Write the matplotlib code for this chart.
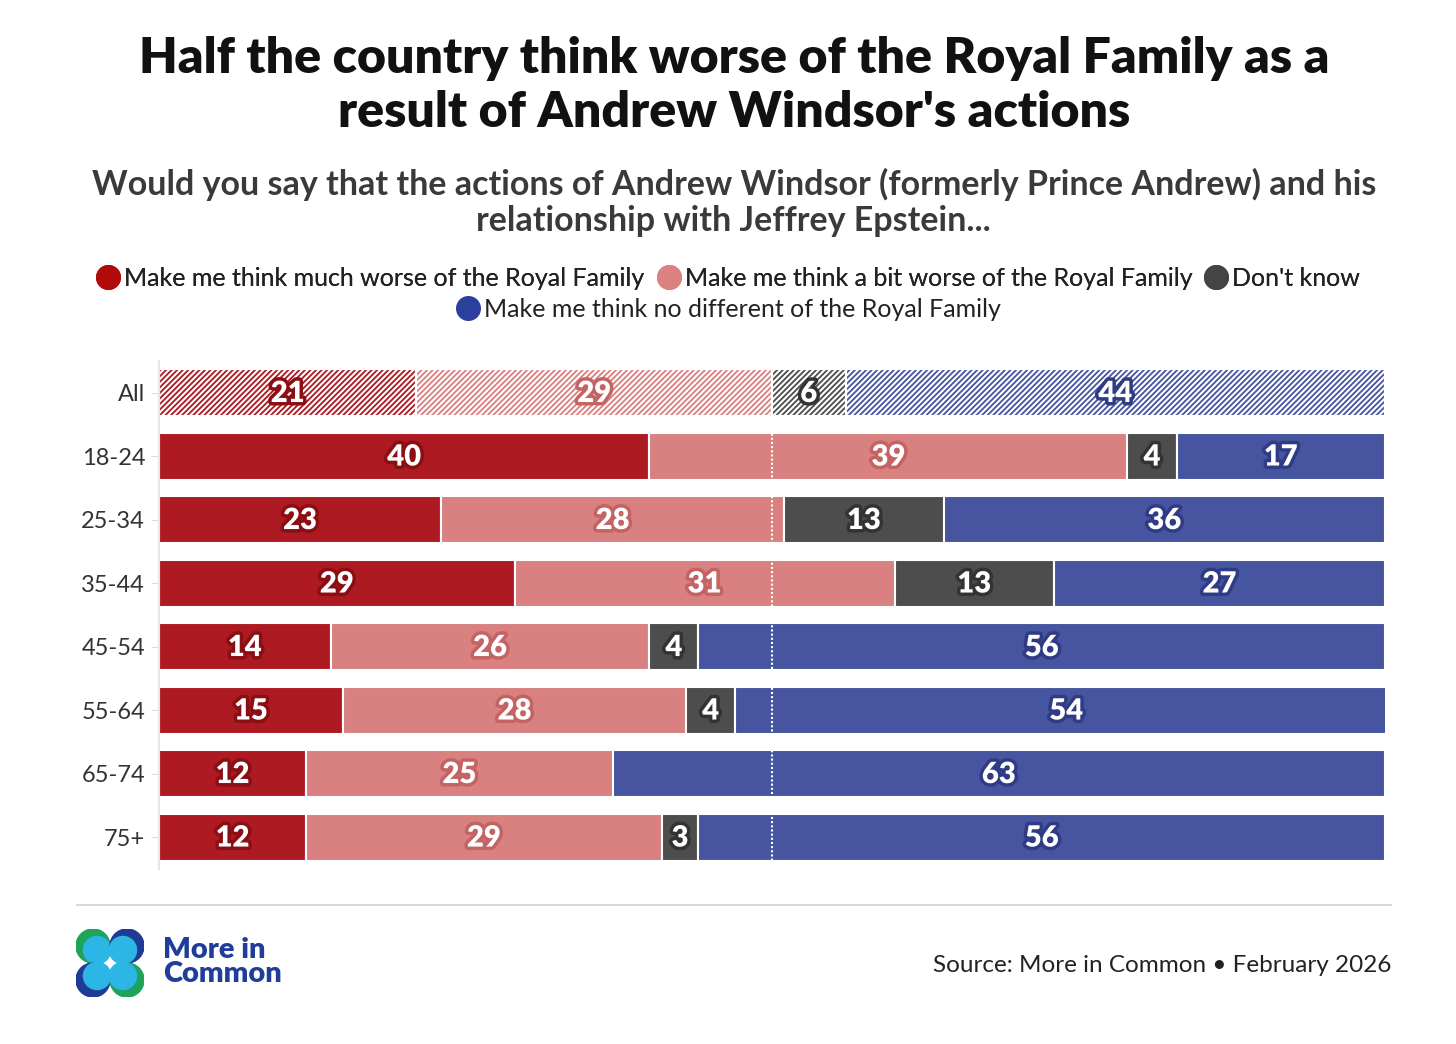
import numpy as np
import matplotlib
matplotlib.use('Agg')
import matplotlib.pyplot as plt
import matplotlib.patheffects as pe
from matplotlib.lines import Line2D
from matplotlib.patches import Circle

# data
groups = ['All', '18-24', '25-34', '35-44', '45-54', '55-64', '65-74', '75+']
much_worse = [21, 40, 23, 29, 14, 15, 12, 12]
bit_worse = [29, 39, 28, 31, 26, 28, 25, 29]
dont_know = [6, 4, 13, 13, 4, 4, 0, 3]
no_different = [44, 17, 36, 27, 56, 54, 63, 56]

series_names = ['Make me think much worse of the Royal Family',
                'Make me think a bit worse of the Royal Family',
                "Don't know",
                'Make me think no different of the Royal Family']
bar_colors = ['#AD1A22', '#D98080', '#4D4D4D', '#4755A0']
stroke_colors = ['#8A0E14', '#C46363', '#333333', '#2F3B85']
legend_colors = ['#B00A0A', '#DD8080', '#444444', '#2B3F9C']

plt.rcParams['font.family'] = ['Lato', 'DejaVu Sans']
plt.rcParams['hatch.linewidth'] = 1.5

fig = plt.figure(figsize=(14.56, 10.44), dpi=100)
ax = fig.add_axes([0.1092, 0.1676, 0.842, 0.4866])

series = [much_worse, bit_worse, dont_know, no_different]
y = np.arange(len(groups))
left = np.zeros(len(groups))
for k, vals in enumerate(series):
    vals = np.array(vals, dtype=float)
    for i in range(len(groups)):
        if vals[i] <= 0:
            continue
        hatch = '//////' if i == 0 else None
        ax.barh(y[i], vals[i], left=left[i], height=0.74, color=bar_colors[k],
                edgecolor='white', linewidth=1.5, hatch=hatch, zorder=2)
        ax.text(left[i] + vals[i] / 2, y[i] + 0.02, str(int(vals[i])), ha='center', va='center',
                color='white', fontsize=21, fontweight='heavy', zorder=5,
                path_effects=[pe.withStroke(linewidth=5, foreground=stroke_colors[k])])
    left += vals

ax.axvline(50, color='white', linestyle=(0, (1, 1)), linewidth=1.5, zorder=3)

ax.set_xlim(0, 100)
ax.set_ylim(len(groups) - 0.5, -0.5)
ax.set_yticks(y)
ax.set_yticklabels(groups, fontsize=17, color='#333333')
ax.tick_params(axis='y', length=6, color='#DDDDDD', pad=4)
ax.set_xticks([])
for s in ['top', 'right', 'bottom']:
    ax.spines[s].set_visible(False)
ax.spines['left'].set_color('#E6E6E6')
ax.spines['left'].set_linewidth(1.5)

# titles
fig.text(0.504, 0.918, "Half the country think worse of the Royal Family as a\nresult of Andrew Windsor's actions",
         ha='center', va='center', fontsize=36, fontweight='heavy', color='#111111', linespacing=1.25)
fig.text(0.504, 0.806, "Would you say that the actions of Andrew Windsor (formerly Prince Andrew) and his\nrelationship with Jeffrey Epstein...",
         ha='center', va='center', fontsize=24.5, fontweight='bold', color='#3A3A3A', linespacing=1.15)

# legend
handles = [Line2D([0], [0], marker='o', linestyle='none', markersize=17,
                  markerfacecolor=c, markeredgecolor=c) for c in legend_colors]
leg1 = fig.legend(handles[:3], series_names[:3], loc='center', bbox_to_anchor=(0.5, 0.733),
                  ncol=3, frameon=False, fontsize=18, handletextpad=0.15, columnspacing=0.45,
                  handlelength=1.0, borderaxespad=0)
leg2 = fig.legend(handles[3:], series_names[3:], loc='center', bbox_to_anchor=(0.5, 0.704),
                  ncol=1, frameon=False, fontsize=18, handletextpad=0.15, handlelength=1.0,
                  borderaxespad=0)
for leg in (leg1, leg2):
    for t in leg.get_texts():
        t.set_color('#222222')
fig.add_artist(leg1)

# footer
fig.add_artist(Line2D([77 / 1456, 1391 / 1456], [1 - 905 / 1044, 1 - 905 / 1044],
                      color='#D9D9D9', linewidth=1.5))
fig.text(1391 / 1456, 1 - 965 / 1044, 'Source: More in Common \u2022 February 2026',
         ha='right', va='center', fontsize=17.5, color='#222222')
fig.text(163 / 1456, 1 - 962 / 1044, 'More in\nCommon', ha='left', va='center',
         fontsize=21, fontweight='heavy', color='#1F3D99', linespacing=0.95)

lax = fig.add_axes([76 / 1456, 1 - 997 / 1044, 68 / 1456, 68 / 1044])
lax.set_xlim(-1, 1)
lax.set_ylim(-1, 1)
lax.set_aspect('equal')
lax.axis('off')
cyan = '#2BB6E6'
corners = [((-0.5, 0.5), '#1FA35B'), ((0.5, 0.5), '#1E3C96'),
           ((-0.5, -0.5), '#1E3C96'), ((0.5, -0.5), '#1FA35B')]
for (cx, cy), col in corners:
    lax.add_patch(Circle((cx, cy), 0.5, color=col))
    lax.add_patch(Circle((cx - np.sign(cx) * 0.12, cy - np.sign(cy) * 0.12), 0.4, color=cyan))

fig.savefig('out.png', dpi=100, facecolor='white')
